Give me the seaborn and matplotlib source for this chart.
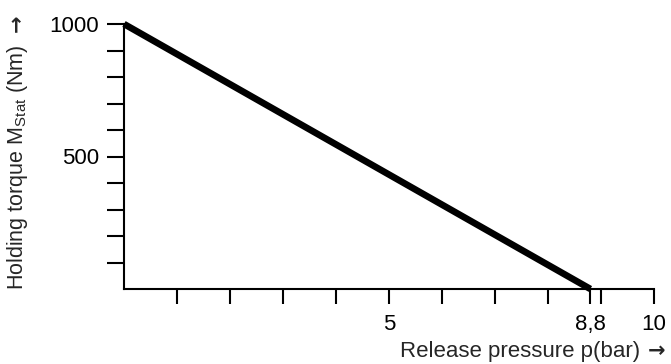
import matplotlib
matplotlib.use("Agg")
import matplotlib.pyplot as plt
import seaborn as sns
import pandas as pd

# data
pressure = [0.0, 8.8]
torque = [1000, 0]
x_ticks = [1, 2, 3, 4, 5, 6, 7, 8, 8.8, 9, 10]
x_tick_labels = ["", "", "", "", "5", "", "", "", "8,8", "", "10"]
y_ticks = [100, 200, 300, 400, 500, 600, 700, 800, 900, 1000]
y_tick_labels = ["", "", "", "", "500", "", "", "", "", "1000"]

df = pd.DataFrame({"p": pressure, "M": torque})

sns.set_style("white")
plt.rcParams["font.family"] = ["Liberation Sans", "DejaVu Sans"]

fig = plt.figure(figsize=(6.71, 3.64), dpi=100)
ax = fig.add_axes([124 / 671, 1 - 289 / 364, (654 - 124) / 671, (289 - 24) / 364])

sns.lineplot(x="p", y="M", data=df, ax=ax, color="black", linewidth=4.8,
             solid_capstyle="butt")
for l in ax.lines:
    l.set_clip_on(False)

ax.set_xlim(0, 10)
ax.set_ylim(0, 1000)
ax.spines["top"].set_visible(False)
ax.spines["right"].set_visible(False)
for s in ["left", "bottom"]:
    ax.spines[s].set_linewidth(1.5)
    ax.spines[s].set_color("black")

ax.set_xticks(x_ticks)
ax.set_xticklabels(x_tick_labels)
ax.set_yticks(y_ticks)
ax.set_yticklabels(y_tick_labels)
ax.tick_params(axis="x", direction="out", length=11, width=1.5, pad=7,
               labelsize=16, colors="black", bottom=True)
ax.tick_params(axis="y", direction="out", length=12, width=1.5, pad=6,
               labelsize=16, colors="black", left=True)

ax.set_xlabel("")
ax.set_ylabel("")

# axis titles with heavy arrows
fig.text(640 / 671, 1 - 352 / 364, "Release pressure p(bar)", ha="right",
         va="center", fontsize=16)
fig.text(665 / 671, 1 - 351 / 364, "→", ha="right", va="center",
         fontsize=15, fontweight="bold", family="DejaVu Sans")
fig.text(18 / 671, 1 - 290 / 364,
         r"Holding torque M$_\mathregular{Stat}$ (Nm)", rotation=90,
         ha="center", va="bottom", fontsize=15.5)
fig.text(17 / 671, 1 - 14 / 364, "→", rotation=90, ha="center", va="top",
         fontsize=15, fontweight="bold", family="DejaVu Sans")

plt.savefig("out.png", dpi=100)
